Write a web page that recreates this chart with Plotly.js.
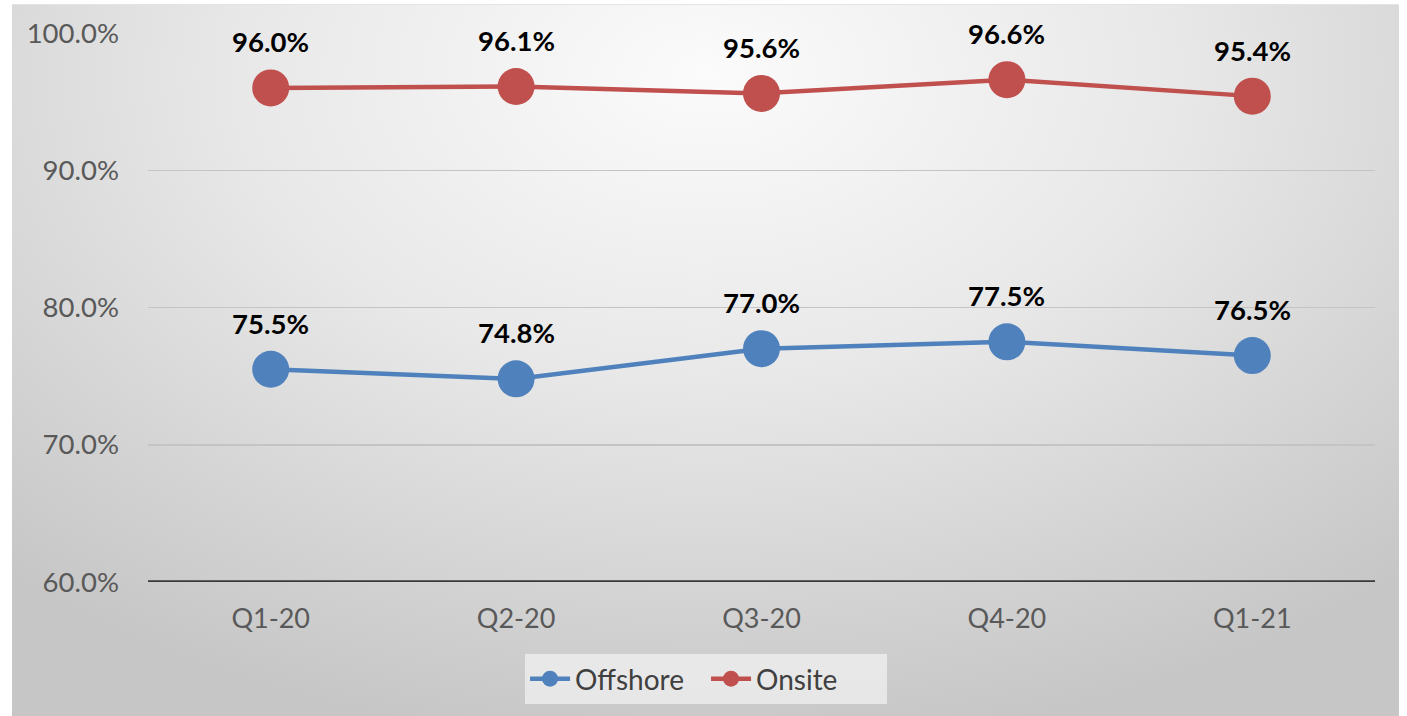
<!DOCTYPE html>
<html>
<head>
<meta charset="utf-8">
<script src="https://cdn.plot.ly/plotly-3.0.1.min.js"></script>
<style>
  html, body { margin: 0; padding: 0; background: #ffffff; }
  #wrap { position: relative; width: 1407px; height: 716px; overflow: hidden; }
  #bg { position: absolute; left: 12px; top: 4px; width: 1387px; height: 712px;
        background: radial-gradient(ellipse 75% 95% at 50% 10%, #fbfbfb 0%, #e8e8e8 45%, #d2d2d2 80%, #c6c6c6 100%);
        border-top: 1px solid #e4e4e4; box-sizing: border-box; }
  #chart { position: absolute; left: 0; top: 0; width: 1407px; height: 716px; }
</style>
</head>
<body>
<div id="wrap">
  <div id="bg"></div>
  <div id="chart"></div>
</div>
<script>
const categories = ["Q1-20", "Q2-20", "Q3-20", "Q4-20", "Q1-21"];
const offshore = [75.5, 74.8, 77.0, 77.5, 76.5];
const onsite = [96.0, 96.1, 95.6, 96.6, 95.4];
const yTicks = [60, 70, 80, 90, 100];
const yTickLabels = ["60.0%", "70.0%", "80.0%", "90.0%", "100.0%"];

const seriesList = [
  { name: "Offshore", values: offshore, color: "#4F81BD" },
  { name: "Onsite", values: onsite, color: "#C0504D" }
];

const traces = seriesList.map(s => ({
  type: "scatter",
  mode: "lines+markers",
  name: s.name,
  x: categories,
  y: s.values,
  line: { color: s.color, width: 4.5 },
  marker: { color: s.color, size: 37 },
  hoverinfo: "skip"
}));

const annotations = [];
seriesList.forEach(s => {
  s.values.forEach((v, i) => {
    annotations.push({
      x: categories[i], y: v, xref: "x", yref: "y",
      text: v.toFixed(1) + "%",
      showarrow: false, yanchor: "middle", xanchor: "center",
      yshift: 46,
      font: { family: "Lato, 'Open Sans', sans-serif", size: 27.5, color: "#000000", weight: "bold" }
    });
  });
});

const layout = {
  width: 1407, height: 716,
  margin: { l: 148, r: 32, t: 33, b: 134 },
  paper_bgcolor: "rgba(0,0,0,0)",
  plot_bgcolor: "rgba(0,0,0,0)",
  showlegend: true,
  legend: {
    orientation: "h",
    xref: "container", yref: "container",
    x: 0.5018, y: 0.0517, xanchor: "center", yanchor: "middle",
    bgcolor: "rgba(236,236,236,0.85)",
    font: { family: "Lato, 'Open Sans', sans-serif", size: 28, color: "#404040" },
    itemwidth: 40,
    entrywidth: 126,
    traceorder: "normal"
  },
  xaxis: {
    type: "category",
    range: [-0.5, 4.5],
    showgrid: false,
    showline: false,
    zeroline: false,
    ticks: "",
    ticklabelstandoff: 18,
    tickfont: { family: "Lato, 'Open Sans', sans-serif", size: 27, color: "#595959" },
    fixedrange: true
  },
  yaxis: {
    range: [60, 100],
    tickvals: yTicks,
    ticktext: yTickLabels,
    showgrid: true,
    gridcolor: "#c4c4c4",
    gridwidth: 1.5,
    zeroline: false,
    showline: false,
    ticks: "",
    ticklabelstandoff: 28,
    tickfont: { family: "Lato, 'Open Sans', sans-serif", size: 27.5, color: "#595959" },
    fixedrange: true
  },
  shapes: [{
    type: "line", xref: "paper", yref: "y",
    x0: 0, x1: 1, y0: yTicks[0], y1: yTicks[0],
    line: { color: "#3a3a3a", width: 3.5 },
    layer: "above"
  }],
  annotations: annotations
};

Plotly.newPlot("chart", traces, layout, { displayModeBar: false, staticPlot: true });
</script>
</body>
</html>
